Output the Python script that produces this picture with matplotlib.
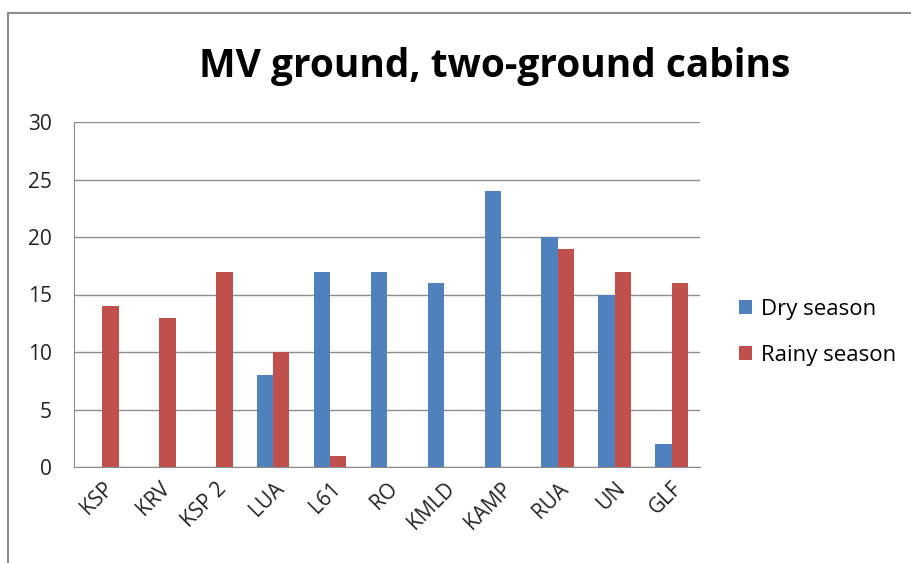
import numpy as np
import matplotlib.pyplot as plt
from matplotlib.patches import Rectangle

plt.rcParams['font.family'] = ['Open Sans', 'DejaVu Sans']

sitios = ['KSP', 'KRV', 'KSP 2', 'LUA', 'L61', 'RO', 'KMLD', 'KAMP', 'RUA', 'UN', 'GLF']
seco = [0, 0, 0, 8, 17, 17, 16, 24, 20, 15, 2]
lluvia = [14, 13, 17, 10, 1, 0, 0, 0, 19, 17, 16]

azul = '#4F81BD'
rojo = '#C0504D'

fig = plt.figure(figsize=(9.11, 5.63), dpi=100)
# marco gris del grafico
fig.patches.append(Rectangle((8 / 911, -0.05), 1.1, 0.05 + 1 - 13 / 563,
                             transform=fig.transFigure, fill=False,
                             edgecolor='#8c8c8c', linewidth=1.5))

ax = fig.add_axes([74 / 911, 1 - 467 / 563, 626 / 911, 345 / 563])
x = np.arange(len(sitios))
w = 0.286
ax.bar(x - w / 2, seco, w, color=azul, label='Dry season')
ax.bar(x + w / 2, lluvia, w, color=rojo, label='Rainy season')

ax.set_xlim(-0.5, len(sitios) - 0.5)
ax.set_ylim(0, 30)
ax.set_yticks(range(0, 31, 5))
ax.yaxis.grid(True, color='#8c8c8c', linewidth=1)
ax.set_axisbelow(True)
for s in ['top', 'right']:
    ax.spines[s].set_visible(False)
for s in ['left', 'bottom']:
    ax.spines[s].set_color('#8c8c8c')
ax.tick_params(axis='y', length=0, labelsize=15, pad=16, colors='#222222')
ax.tick_params(axis='x', length=0, labelsize=15, pad=8, colors='#222222')
ax.set_xticks(x)
ax.set_xticklabels(sitios, rotation=45, ha='right', rotation_mode='anchor')

fig.text(495 / 911, 1 - 66 / 563, 'MV ground, two-ground cabins', ha='center',
         va='center', fontsize=28, fontweight='bold', color='black')

ax.legend(loc='center left', bbox_to_anchor=(1.03, 0.39), frameon=False,
          fontsize=16, handlelength=0.6, handleheight=0.6, handletextpad=0.4,
          labelspacing=1.1)

plt.savefig('out.png', dpi=100)
